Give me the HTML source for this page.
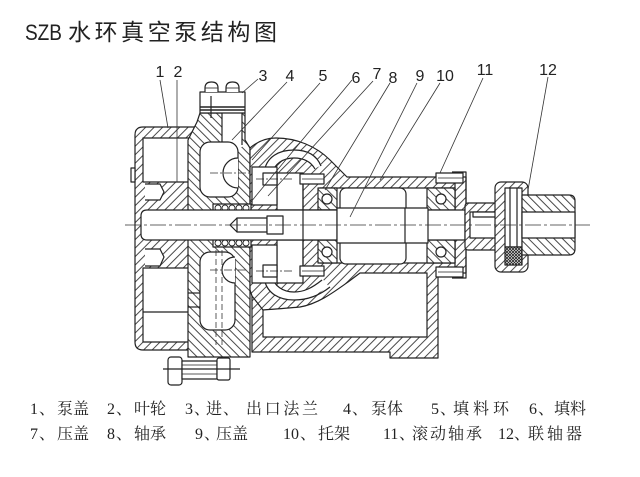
<!DOCTYPE html>
<html><head><meta charset="utf-8">
<style>html,body{margin:0;padding:0;background:#fff;}svg{display:block}</style>
</head>
<body>
<svg xmlns="http://www.w3.org/2000/svg" width="640" height="477" viewBox="0 0 640 477">
<defs>
<pattern id="a" width="6" height="6" patternUnits="userSpaceOnUse" patternTransform="rotate(45)"><rect width="6" height="6" fill="#fff"/><line x1="1" y1="0" x2="1" y2="6" stroke="#4a4a4a" stroke-width="1"/></pattern>
<pattern id="b" width="6" height="6" patternUnits="userSpaceOnUse" patternTransform="rotate(-45)"><rect width="6" height="6" fill="#fff"/><line x1="1" y1="0" x2="1" y2="6" stroke="#4a4a4a" stroke-width="1"/></pattern>
<pattern id="c" width="3" height="3" patternUnits="userSpaceOnUse"><rect width="3" height="3" fill="#fff"/><path d="M0,0 L3,3 M3,0 L0,3" stroke="#222" stroke-width="0.8"/></pattern>
</defs>

<!-- Title -->
<text x="25" y="40" font-family="'Liberation Sans','Noto Sans CJK SC',sans-serif" font-size="22" textLength="37" lengthAdjust="spacingAndGlyphs" fill="#222">SZB</text>
<text x="68" y="40" font-family="'Liberation Sans','Noto Sans CJK SC',sans-serif" font-size="23" textLength="209" lengthAdjust="spacing" fill="#222">水环真空泵结构图</text>

<g fill="none" stroke="#222" stroke-width="1.2" stroke-linejoin="round">

<!-- Cover (1) -->
<path d="M143,127 H200 V140 H190 V350 H143 Q135,350 135,342 V135 Q135,127 143,127 Z" fill="url(#a)"/>
<rect x="143" y="138" width="46" height="44" fill="#fff"/>
<rect x="143" y="268" width="46" height="74" fill="#fff"/>
<line x1="143" y1="312" x2="189" y2="312"/>
<rect x="131" y="168" width="4" height="14" fill="#fff"/>
<path d="M145,184 H160 L164,192 L160,200 H145" fill="#fff"/>
<path d="M145,249 H160 L164,257 L160,266 H145" fill="#fff"/>

<!-- Body (4) -->
<path d="M188,140 L197,122 L200,113 H245 V140 L250,148 V357 H188 Z" fill="url(#b)"/>
<rect x="222" y="113" width="20" height="34" fill="#fff" stroke="none"/>
<line x1="222" y1="113" x2="222" y2="145"/>
<line x1="242" y1="113" x2="242" y2="145"/>
<rect x="200" y="142" width="38" height="55" rx="10" fill="#fff"/>
<path d="M238,158 A15,15 0 0 0 238,188" fill="#fff"/>
<rect x="200" y="252" width="35" height="78" rx="10" fill="#fff"/>
<path d="M235,257 A13,13 0 0 0 235,283" fill="#fff"/>
<line x1="188" y1="293" x2="200" y2="293"/>
<line x1="188" y1="307" x2="200" y2="307"/>

<!-- Bracket (10) -->
<path d="M250,148 C258,141 266,138 276,138 C296,138 316,146 330,160 L347,177 H466 V273 H438 V358 H390 V352 H252 V296 L250,290 Z" fill="url(#a)"/>
<path d="M268,173 C270,160 281,154 294,154 C306,154 314,159 318,167" stroke="#fff" stroke-width="8"/>
<path d="M264,173 C266,156 280,150 294,150 C308,150 317,156 321,166"/>
<path d="M272,174 C274,164 283,158 294,158 C304,158 311,162 315,169"/>
<path d="M268,277 C270,290 281,296 294,296 C306,296 316,291 326,283" stroke="#fff" stroke-width="8"/>
<path d="M264,277 C266,294 280,300 294,300 C308,300 320,295 330,287"/>
<path d="M272,276 C274,286 283,292 294,292 C304,292 312,288 322,280"/>
<rect x="277" y="173" width="26" height="37" fill="#fff"/>
<rect x="277" y="240" width="26" height="43" fill="#fff"/>
<path d="M263,337 V310 C275,309 290,308 300,307 C318,304 334,292 348,282 L360,273 H427 V337 Z" fill="#fff"/>
<line x1="252" y1="296" x2="263" y2="310"/>

<!-- gland flanges (7) -->
<rect x="252" y="167" width="25" height="38" fill="#fff"/>
<rect x="252" y="245" width="25" height="38" fill="#fff"/>
<rect x="263" y="173" width="14" height="12" fill="#fff"/>
<rect x="263" y="265" width="14" height="12" fill="#fff"/>
<line x1="256" y1="179" x2="292" y2="179" stroke-width="0.8" stroke-dasharray="8 2 2 2"/>
<line x1="256" y1="271" x2="292" y2="271" stroke-width="0.8" stroke-dasharray="8 2 2 2"/>

<!-- packing (5,6) -->
<rect x="213" y="204" width="38" height="8" fill="#fff"/>
<rect x="213" y="239" width="38" height="8" fill="#fff"/>
<g stroke-width="0.9">
<circle cx="218" cy="208" r="3"/><circle cx="225" cy="208" r="3"/><circle cx="232" cy="208" r="3"/><circle cx="239" cy="208" r="3"/><circle cx="246" cy="208" r="3"/>
<circle cx="218" cy="243" r="3"/><circle cx="225" cy="243" r="3"/><circle cx="232" cy="243" r="3"/><circle cx="239" cy="243" r="3"/><circle cx="246" cy="243" r="3"/>
</g>

<!-- Bearing housing inner -->
<rect x="320" y="188" width="135" height="75" fill="#fff"/>
<line x1="303" y1="173" x2="303" y2="277"/>
<line x1="455" y1="172" x2="455" y2="278"/>
<path d="M452,172 H466 V278 H452"/>

<!-- bearings (8,11) -->
<rect x="318" y="188" width="19" height="22" fill="url(#b)"/>
<rect x="318" y="240" width="19" height="23" fill="url(#b)"/>
<rect x="427" y="188" width="28" height="22" fill="url(#b)"/>
<rect x="427" y="240" width="28" height="23" fill="url(#b)"/>
<circle cx="327" cy="199" r="5" fill="#fff"/>
<circle cx="327" cy="252" r="5" fill="#fff"/>
<circle cx="441" cy="199" r="5" fill="#fff"/>
<circle cx="441" cy="252" r="5" fill="#fff"/>

<!-- spacer -->
<rect x="340" y="188" width="66" height="76" rx="6" fill="#fff"/>

<!-- Shaft -->
<path d="M147,210 H465 V240 H147 Q141,240 141,234 V216 Q141,210 147,210 Z" fill="#fff"/>
<rect x="303" y="210" width="34" height="30" fill="#fff"/>
<rect x="337" y="208" width="91" height="35" fill="#fff"/>
<line x1="405" y1="208" x2="405" y2="243"/>
<rect x="237" y="218" width="30" height="14" fill="#fff"/>
<rect x="267" y="216" width="16" height="18" fill="#fff"/>
<path d="M237,218 L230,225 L237,232"/>

<!-- bolts -->
<rect x="300" y="174" width="24" height="10" fill="#fff"/>
<rect x="300" y="266" width="24" height="10" fill="#fff"/>
<rect x="436" y="173" width="27" height="10" fill="#fff"/>
<rect x="436" y="267" width="27" height="10" fill="#fff"/>
<g stroke-width="0.7"><line x1="302" y1="179" x2="324" y2="179"/><line x1="438" y1="178" x2="463" y2="178"/><line x1="302" y1="271" x2="324" y2="271"/><line x1="438" y1="272" x2="463" y2="272"/></g>

<!-- Coupling (12) -->
<rect x="465" y="203" width="35" height="47" rx="3" fill="url(#a)"/>
<rect x="470" y="212" width="30" height="26" fill="#fff"/>
<rect x="473" y="212" width="27" height="5" fill="#fff"/>
<rect x="495" y="182" width="33" height="90" rx="6" fill="url(#a)"/>
<rect x="505" y="188" width="17" height="59" fill="#fff"/>
<line x1="510" y1="188" x2="510" y2="247"/>
<line x1="517" y1="188" x2="517" y2="247"/>
<rect x="505" y="247" width="17" height="18" fill="url(#c)"/>
<path d="M522,195 H569 Q575,195 575,201 V249 Q575,255 569,255 H522 Z" fill="url(#b)"/>
<rect x="522" y="212" width="53" height="26" fill="#fff"/>

<!-- Flange block (3) -->
<rect x="200" y="92" width="45" height="21" fill="#fff"/>
<line x1="200" y1="107" x2="245" y2="107" stroke-width="1.6"/>
<line x1="200" y1="110" x2="245" y2="110" stroke-width="1.6"/>
<line x1="211" y1="96" x2="211" y2="118"/>
<path d="M205,92 V88 Q205,82 211.5,82 Q218,82 218,88 V92" fill="#fff"/>
<path d="M226,92 V88 Q226,82 232.5,82 Q239,82 239,88 V92" fill="#fff"/>
<line x1="205" y1="88" x2="218" y2="88" stroke-width="0.8"/>
<line x1="226" y1="88" x2="239" y2="88" stroke-width="0.8"/>

<!-- bottom bolt -->
<rect x="168" y="357" width="14" height="28" rx="3" fill="#fff"/>
<rect x="182" y="361" width="35" height="18" fill="#fff"/>
<rect x="217" y="358" width="13" height="22" rx="2" fill="#fff"/>
<line x1="163" y1="369" x2="240" y2="369"/>
<line x1="182" y1="365" x2="217" y2="365" stroke-width="0.8"/>
<line x1="182" y1="374" x2="217" y2="374" stroke-width="0.8"/>
</g>

<!-- centre lines -->
<g stroke="#333" stroke-width="0.8" fill="none">
<line x1="125" y1="225" x2="590" y2="225" stroke-dasharray="16 3 3 3"/>
<line x1="216" y1="250" x2="216" y2="345" stroke-dasharray="6 3"/>
<line x1="222" y1="250" x2="222" y2="345" stroke-dasharray="6 3"/>
<line x1="210" y1="173" x2="250" y2="173" stroke-dasharray="8 2 2 2"/>
<line x1="210" y1="270" x2="248" y2="270" stroke-dasharray="8 2 2 2"/>
</g>

<!-- leaders -->
<g stroke="#333" stroke-width="0.8">
<line x1="160" y1="80" x2="168" y2="128"/>
<line x1="177" y1="80" x2="177" y2="182"/>
<line x1="258" y1="79" x2="242" y2="93"/>
<line x1="287" y1="82" x2="232" y2="140"/>
<line x1="320" y1="83" x2="252" y2="160"/>
<line x1="352" y1="80" x2="250" y2="203"/>
<line x1="373" y1="81" x2="268" y2="196"/>
<line x1="390" y1="83" x2="325" y2="190"/>
<line x1="417" y1="83" x2="350" y2="217"/>
<line x1="440" y1="83" x2="380" y2="180"/>
<line x1="483" y1="78" x2="440" y2="173"/>
<line x1="548" y1="77" x2="528" y2="190"/>
</g>

<!-- numbers -->
<g font-family="'Liberation Sans',sans-serif" font-size="16" fill="#222" text-anchor="middle">
<text x="160" y="77">1</text>
<text x="178" y="77">2</text>
<text x="263" y="81">3</text>
<text x="290" y="81">4</text>
<text x="323" y="81">5</text>
<text x="356" y="83">6</text>
<text x="377" y="79">7</text>
<text x="393" y="83">8</text>
<text x="420" y="81">9</text>
<text x="445" y="81">10</text>
<text x="485" y="75">11</text>
<text x="548" y="75">12</text>
</g>

<!-- caption -->
<g font-family="'Liberation Serif','Noto Serif CJK SC',serif" font-size="16" fill="#222">
<text x="30" y="414">1</text><text x="39" y="414">、</text><text x="57" y="414">泵盖</text>
<text x="107" y="414">2</text><text x="116" y="414">、</text><text x="134" y="414">叶轮</text>
<text x="185" y="414">3</text><text x="194" y="414">、</text><text x="206" y="414">进</text><text x="223" y="414">、</text><text x="246" y="414" textLength="72" lengthAdjust="spacing">出口法兰</text>
<text x="343" y="414">4</text><text x="352" y="414">、</text><text x="371" y="414">泵体</text>
<text x="431" y="414">5</text><text x="440" y="414">、</text><text x="453" y="414" textLength="56" lengthAdjust="spacing">填料环</text>
<text x="529" y="414">6</text><text x="538" y="414">、</text><text x="554" y="414">填料</text>

<text x="30" y="439">7</text><text x="39" y="439">、</text><text x="57" y="439">压盖</text>
<text x="107" y="439">8</text><text x="116" y="439">、</text><text x="134" y="439">轴承</text>
<text x="195" y="439">9</text><text x="204" y="439">、</text><text x="216" y="439">压盖</text>
<text x="283" y="439">10</text><text x="300" y="439">、</text><text x="318" y="439">托架</text>
<text x="383" y="439">11</text><text x="399" y="439">、</text><text x="412" y="439" textLength="70" lengthAdjust="spacing">滚动轴承</text>
<text x="498" y="439">12</text><text x="514" y="439">、</text><text x="528" y="439" textLength="54" lengthAdjust="spacing">联轴器</text>
</g>
</svg>
</body></html>
